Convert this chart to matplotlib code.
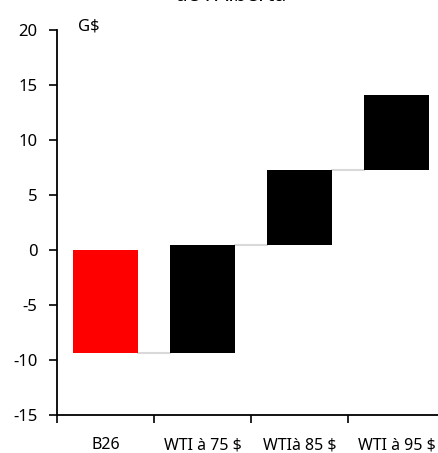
import matplotlib
matplotlib.use("Agg")
import matplotlib.pyplot as plt
import numpy as np

plt.rcParams["font.family"] = ["Noto Sans", "DejaVu Sans"]
plt.rcParams["axes.unicode_minus"] = False

# waterfall data (G$)
categories = ["B26", "WTI à 75 $", "WTIà 85 $", "WTI à 95 $"]
steps = [-9.4, 9.85, 6.8, 6.85]
colors = ["#ff0000", "#000000", "#000000", "#000000"]

ends = np.cumsum(steps)
starts = ends - np.array(steps)

fig = plt.figure(figsize=(4.38, 4.53), dpi=100)
ax = fig.add_axes([0.130, 0.084, 0.886, 0.850])

x = np.arange(len(categories))
width = 0.67
ax.bar(x, steps, width, bottom=starts, color=colors, zorder=3)

# connectors between bars
for i in range(len(categories) - 1):
    ax.plot([x[i] + width / 2, x[i + 1] - width / 2], [ends[i], ends[i]],
            color="#d9d9d9", lw=1.5, zorder=2)

ax.set_xlim(-0.5, len(categories) - 0.5)
ax.set_ylim(-15, 20)
ax.set_yticks(np.arange(-15, 21, 5))
ax.set_xticks(x - 0.5)
ax.set_xticklabels([])
ax.set_xticks(x, minor=True)
ax.set_xticklabels(categories, minor=True, fontsize=11.5)
ax.tick_params(axis="x", which="minor", length=0, pad=16)
ax.tick_params(axis="x", which="major", length=6, width=1.2)
ax.tick_params(axis="y", length=6, width=1.2, labelsize=12, pad=8)

for s in ["top", "right"]:
    ax.spines[s].set_visible(False)
for s in ["left", "bottom"]:
    ax.spines[s].set_linewidth(1.3)

ax.text(0.055, 1.01, "G$", transform=ax.transAxes, fontsize=12,
        ha="left", va="center")

fig.text(231 / 438, 1 - 1 / 453, "Solde budgétaire du gouvernement\nde l'Alberta",
         ha="center", va="baseline", fontsize=15, fontweight="bold")

fig.savefig("out.png", dpi=100)
